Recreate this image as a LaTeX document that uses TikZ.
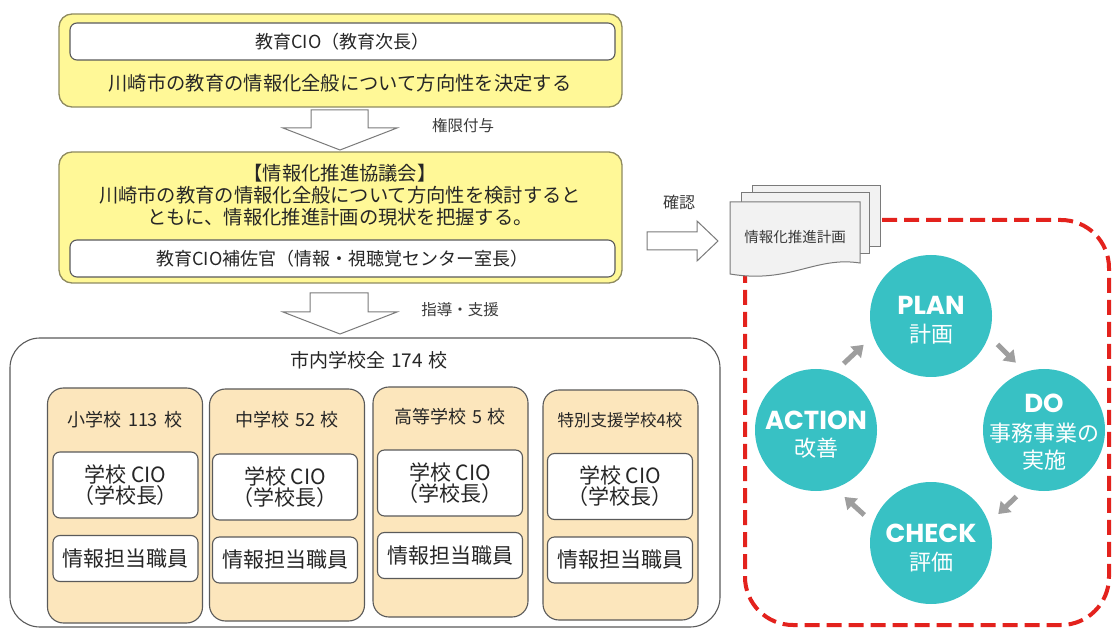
\documentclass[tikz,border=0pt]{standalone}
\usepackage{fontspec}
\setmainfont{Noto Sans CJK JP}
\newfontfamily\pdcafont{Poppins}
\usetikzlibrary{arrows.meta}
\definecolor{ylw}{HTML}{FFF897}
\definecolor{ybord}{HTML}{8E8A60}
\definecolor{gbord}{HTML}{5A5A5A}
\definecolor{tanf}{HTML}{FCE6BC}
\definecolor{tealc}{HTML}{38C1C4}
\definecolor{redd}{HTML}{E3221D}
\definecolor{docf}{HTML}{F2F2F2}
\definecolor{docb}{HTML}{7A7A7A}
\definecolor{txt}{HTML}{262626}
\definecolor{lbl}{HTML}{3A3A3A}
\definecolor{cycg}{HTML}{9E9E9E}
\newcommand\fsz[1]{\fontsize{#1}{#1}\selectfont}
\begin{document}
\begin{tikzpicture}[x=1pt,y=-1pt,
  ybox/.style={draw=ybord, fill=ylw, line width=1.3pt, rounded corners=13pt, inner sep=0pt},
  wbox/.style={draw=gbord, fill=white, line width=1.1pt, rounded corners=7pt, text=txt, inner sep=0pt, align=center},
  colbox/.style={draw=gbord, fill=tanf, line width=1.1pt, rounded corners=16pt, minimum width=155, inner sep=0pt},
  bigbox/.style={draw=gbord, fill=white, line width=1.1pt, rounded corners=30pt, inner sep=0pt},
  cio/.style={wbox, minimum width=145, minimum height=66, font=\fontsize{21}{21}\selectfont},
  staff/.style={wbox, minimum width=145, minimum height=46, font=\fsz{21}},
  ttl/.style={text=txt, inner sep=0pt},
  blk/.style={draw=docb, fill=white, line width=1pt, line join=miter},
  lab/.style={text=lbl, inner sep=0pt, font=\fsz{15.5}},
  pdca/.style={circle, fill=tealc, minimum size=122, inner sep=0pt},
  pbig/.style={text=white, inner sep=0pt, font=\pdcafont\bfseries\fsz{26}},
  psmall/.style={text=white, inner sep=0pt, font=\fsz{22}},
  cyc/.style={draw=cycg, line width=5pt, -{Triangle[width=15pt,length=11pt]}, shorten <=12pt, shorten >=13pt},
  doc/.style={draw=docb, fill=docf, line width=1pt}
]
\useasboundingbox (0,0) rectangle (1112,628);

% ---------- top yellow box ----------
\node[ybox, minimum width=563, minimum height=93] (top) at (340.5,60.5) {};
\node[wbox, minimum width=545, minimum height=37, font=\fsz{18}] (tophead) at (342.5,41.5) {教育CIO（教育次長）};
\node[ttl, font=\fsz{19.3}] (toptext) at (340,83) {川崎市の教育の情報化全般について方向性を決定する};

% arrow 1
\draw[blk] (311,110) -- (368,110) -- (368,128) -- (397,128) -- (340,150) -- (283,128) -- (311,128) -- cycle;
\node[lab] (l1) at (463,126) {権限付与};

% ---------- second yellow box ----------
\node[ybox, minimum width=563, minimum height=131] (kyo) at (340.5,217.5) {};
\node[ttl, align=center, font=\fontsize{19.3}{22}\selectfont] (kyotext) at (340,195) {【情報化推進協議会】\\川崎市の教育の情報化全般について方向性を検討すると\\ともに、情報化推進計画の現状を把握する。};
\node[wbox, minimum width=545, minimum height=37, font=\fsz{18}] (kyohead) at (342.5,258.5) {教育CIO補佐官（情報・視聴覚センター室長）};

% arrow 2
\draw[blk] (310,293) -- (368,293) -- (368,312) -- (397,312) -- (340,334) -- (283,312) -- (310,312) -- cycle;
\node[lab] (l2) at (460,310) {指導・支援};

% ---------- schools ----------
\node[bigbox, minimum width=710, minimum height=289] (schools) at (365,482.5) {};
\node[ttl, font=\fsz{19}] (schtitle) at (369,360) {市内学校全\hspace{0.3em}174\hspace{0.3em}校};

\node[colbox, minimum height=235] (c1) at (125,505.5) {};
\node[colbox, minimum height=232] (c2) at (287,505) {};
\node[colbox, minimum height=230] (c3) at (450.5,502) {};
\node[colbox, minimum height=230] (c4) at (620.5,505) {};

\node[ttl, font=\fsz{18}] (t1) at (125,420) {小学校\hspace{0.35em}113\hspace{0.35em}校};
\node[ttl, font=\fsz{18}] (t2) at (287,420) {中学校\hspace{0.3em}52\hspace{0.3em}校};
\node[ttl, font=\fsz{18}] (t3) at (450,417) {高等学校\hspace{0.3em}5\hspace{0.3em}校};
\node[ttl, font=\fsz{16.5}] (t4) at (620,420) {特別支援学校4校};

\node[cio] (cio1) at (125.5,485) {学校 CIO\\（学校長）};
\node[cio] (cio2) at (285,487) {学校 CIO\\（学校長）};
\node[cio] (cio3) at (450,483) {学校 CIO\\（学校長）};
\node[cio] (cio4) at (620,486.5) {学校 CIO\\（学校長）};

\node[staff] (s1) at (125.5,558.5) {情報担当職員};
\node[staff] (s2) at (285,560) {情報担当職員};
\node[staff] (s3) at (450,555.5) {情報担当職員};
\node[staff] (s4) at (620,560) {情報担当職員};

% ---------- right side ----------
\draw[redd, line width=4pt, dash pattern=on 15pt off 7pt, rounded corners=48pt] (745,220) rectangle (1109,625);

\draw[doc] (752,186) rectangle (880,247);
\draw[doc] (741,193) rectangle (869,254);
\draw[doc] (730,202) -- (860,202) -- (860,263) .. controls (815,256) and (790,284) .. (730,274) -- cycle;
\node[text=lbl, inner sep=0pt, font=\fsz{14.5}] (plan doc) at (795,237) {情報化推進計画};

\draw[blk] (647,232) -- (697,232) -- (697,221) -- (718,241) -- (697,261) -- (697,250) -- (647,250) -- cycle;
\node[lab, font=\fsz{16}] (l3) at (679,202) {確認};

\node[pdca] (nplan) at (931,316) {};
\node[pdca] (ndo) at (1044,430) {};
\node[pdca] (ncheck) at (931,543) {};
\node[pdca] (nact) at (816,430) {};

\node[pbig] (tplan) at (931,305) {PLAN};
\node[psmall] (tplan2) at (931,334) {計画};
\node[pbig] (tdo) at (1044,403) {DO};
\node[psmall] (tdo2) at (1044,433) {事務事業の};
\node[psmall] (tdo3) at (1044,460) {実施};
\node[pbig] (tcheck) at (931,533) {CHECK};
\node[psmall] (tcheck2) at (931,562) {評価};
\node[pbig] (tact) at (816,420) {ACTION};
\node[psmall] (tact2) at (816,448) {改善};

\draw[cyc] (nplan.-19) -- (ndo.108);
\draw[cyc] (ndo.-108) -- (ncheck.19);
\draw[cyc] (ncheck.161) -- (nact.-72);
\draw[cyc] (nact.72) -- (nplan.199);
\end{tikzpicture}
\end{document}
